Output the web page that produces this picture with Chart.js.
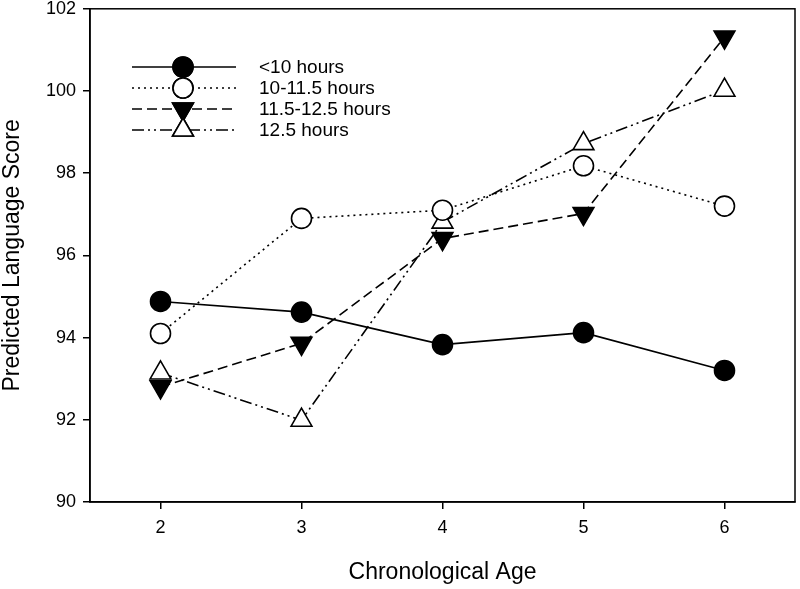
<!DOCTYPE html>
<html>
<head>
<meta charset="utf-8">
<script src="https://cdn.jsdelivr.net/npm/chart.js@4"></script>
<style>
  html, body { margin: 0; padding: 0; background: #fff; }
  #wrap { width: 800px; height: 589px; overflow: hidden; }
  #chart { display: block; margin-top: -9px; }
</style>
</head>
<body>
<div id="wrap"><canvas id="chart" width="800" height="598"></canvas></div>
<script>
const ages = [2, 3, 4, 5, 6];
const xTicks = [2, 3, 4, 5, 6];
const seriesNames = ["<10 hours", "10-11.5 hours", "11.5-12.5 hours", "12.5 hours"];
const under10 = [94.88, 94.62, 93.83, 94.12, 93.2];
const from10to115 = [94.1, 96.9, 97.1, 98.18, 97.2];
const from115to125 = [92.8, 93.86, 96.41, 97.02, 101.31];
const over125 = [93.14, 91.99, 96.81, 98.72, 100.02];

const pts = (vals) => vals.map((v, i) => ({ x: ages[i], y: v }));

function series(label, vals, dash, style, rot, fill) {
    return {
        label: label,
        data: pts(vals),
        borderColor: "#000",
        borderWidth: 1.6,
        borderDash: dash,
        pointStyle: style,
        rotation: rot,
        pointRadius: style === "circle" ? 10 : 12,
        pointBorderWidth: 1.6,
        pointBorderColor: "#000",
        pointBackgroundColor: fill,
        showLine: true,
        fill: false,
    };
}

// legend with line + marker, drawn from the dataset styles
// (canvas is shifted up 9px, so y positions include that offset)
const lineLegend = {
    id: "lineLegend",
    afterDatasetsDraw(chart) {
        const ctx = chart.ctx;
        chart.data.datasets.forEach((ds, i) => {
            const y = 76 + i * 21;
            ctx.save();
            ctx.strokeStyle = ds.borderColor;
            ctx.lineWidth = ds.borderWidth;
            ctx.setLineDash(ds.borderDash || []);
            ctx.beginPath();
            ctx.moveTo(132, y);
            ctx.lineTo(236, y);
            ctx.stroke();
            ctx.setLineDash([]);
            ctx.fillStyle = ds.pointBackgroundColor;
            Chart.helpers.drawPoint(ctx, {
                pointStyle: ds.pointStyle,
                rotation: ds.rotation,
                radius: ds.pointRadius,
                borderWidth: ds.pointBorderWidth,
            }, 183, y);
            ctx.fill();
            ctx.stroke();
            ctx.fillStyle = "#000";
            ctx.font = "19px 'Liberation Sans', Arial, sans-serif";
            ctx.textBaseline = "middle";
            ctx.textAlign = "left";
            ctx.fillText(ds.label, 259, y + 1);
            ctx.restore();
        });
    },
};

const frame = {
    id: "frame",
    afterDraw(chart) {
        const a = chart.chartArea;
        const ctx = chart.ctx;
        ctx.save();
        ctx.strokeStyle = "#000";
        ctx.lineWidth = 1.5;
        ctx.strokeRect(a.left, a.top, a.right - a.left, a.bottom - a.top);
        ctx.restore();
    },
};

const font = "'Liberation Sans', Arial, sans-serif";

new Chart(document.getElementById("chart").getContext("2d"), {
    type: "scatter",
    data: {
        datasets: [
            series(seriesNames[0], under10, [], "circle", 0, "#000"),
            series(seriesNames[1], from10to115, [2, 4], "circle", 0, "#fff"),
            series(seriesNames[2], from115to125, [10, 5], "triangle", 180, "#000"),
            series(seriesNames[3], over125, [12, 4, 2, 4, 2, 4], "triangle", 0, "#fff"),
        ],
    },
    options: {
        responsive: false,
        animation: false,
        layout: { autoPadding: false, padding: { top: 0, right: 5, left: 0, bottom: 0 } },
        plugins: {
            legend: { display: false },
            tooltip: { enabled: false },
        },
        scales: {
            x: {
                type: "linear",
                min: 1.5,
                max: 6.5,
                afterBuildTicks: (s) => { s.ticks = xTicks.map((v) => ({ value: v })); },
                afterFit: (s) => { s.height = 87; },
                grid: { display: true, drawOnChartArea: false, tickLength: 7, color: "#000", lineWidth: 1.5 },
                border: { display: true, color: "#000", width: 1.5 },
                ticks: { color: "#000", font: { size: 18, family: font }, padding: 8 },
                title: { display: true, text: "Chronological Age", color: "#000", font: { size: 23, family: font }, padding: { top: 0, bottom: 3 } },
            },
            y: {
                min: 90,
                max: 102,
                afterFit: (s) => { s.width = 90; },
                grid: { display: true, drawOnChartArea: false, tickLength: 7, color: "#000", lineWidth: 1.5 },
                border: { display: true, color: "#000", width: 1.5 },
                ticks: { stepSize: 2, color: "#000", font: { size: 18, family: font }, padding: 7 },
                title: { display: true, text: "Predicted Language Score", color: "#000", font: { size: 23, family: font, lineHeight: 1.1 }, padding: 0 },
            },
        },
    },
    plugins: [frame, lineLegend],
});
</script>
</body>
</html>
